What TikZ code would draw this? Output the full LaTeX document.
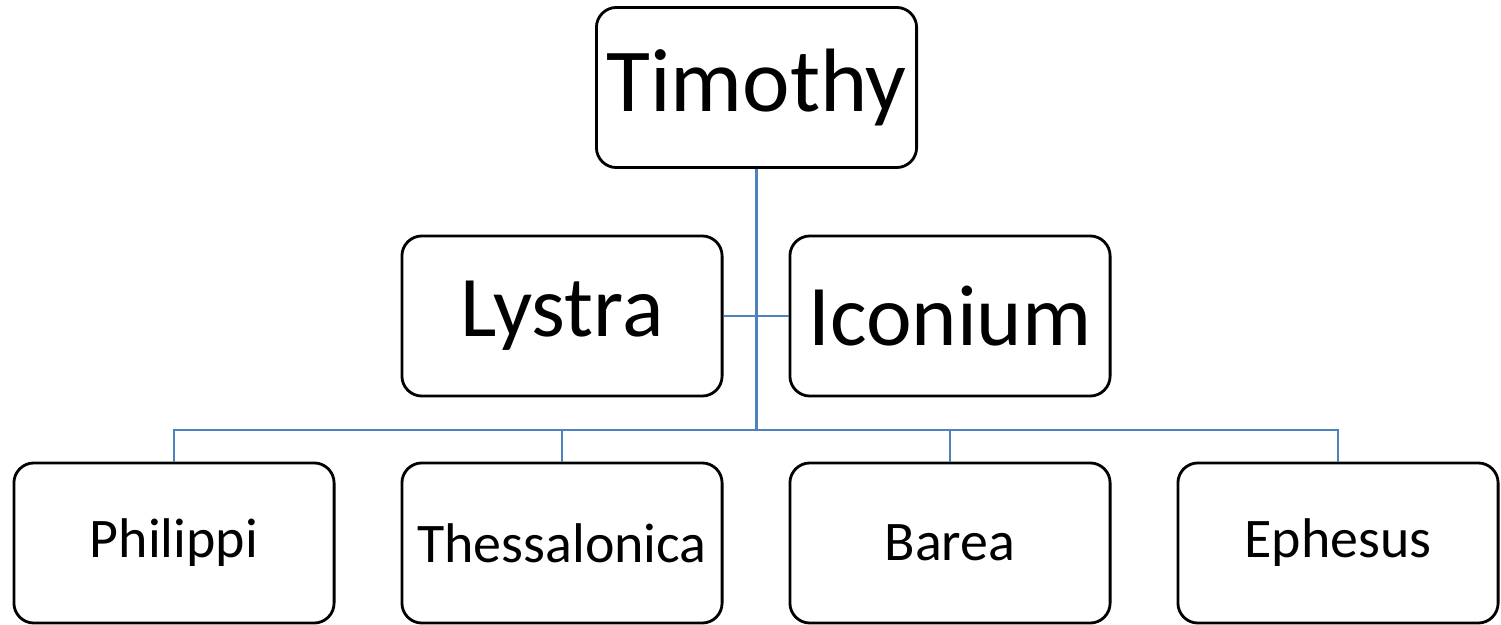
\documentclass[tikz,border=0pt]{standalone}
\usepackage{fontspec}
\setmainfont{Carlito}
\definecolor{bleulien}{RGB}{79,129,189}
\begin{document}
\begin{tikzpicture}[x=0.01cm,y=0.01cm]
% Styles
\tikzstyle{boite}=[draw=black,line width=0.8pt,rounded corners=0.2cm,minimum width=3.2cm,minimum height=1.6cm,inner sep=0pt,fill=white]
\tikzstyle{grand}=[font=\fontsize{25.6}{30}\selectfont]
\tikzstyle{moyen}=[font=\fontsize{24.6}{29}\selectfont]
\tikzstyle{petit}=[font=\fontsize{15.9}{19}\selectfont]
\tikzstyle{trait}=[draw=bleulien,line width=0.65pt]
% Cadre
\useasboundingbox (0,0) rectangle (1501,624);
% Hauteurs des lignes
\def\HtA{536.5}
\def\HtB{308}
\def\HtC{81}
\def\HtBus{194}
% Ligne du haut
\node[boite,grand] (timothy) at (756.5,\HtA) {Timothy};
% Ligne du milieu
\node[boite,moyen] (lystra) at (562,\HtB) {Lystra};
\node[boite,moyen] (iconium) at (950,\HtB) {Iconium};
% Ligne du bas
\node[boite,petit] (philippi) at (174,\HtC) {Philippi};
\node[boite,petit] (thessalonica) at (562,\HtC) {Thessalonica};
\node[boite,petit] (barea) at (950,\HtC) {Barea};
\node[boite,petit] (ephesus) at (1338,\HtC) {Ephesus};
% Liens
\coordinate (bus) at (756.5,\HtBus);
\draw[trait] (timothy.south) -- (bus);
\draw[trait] (lystra.east) -- (iconium.west);
\draw[trait] (philippi.north) |- (bus) -| (ephesus.north);
\draw[trait] (thessalonica.north) -- (thessalonica.north |- bus);
\draw[trait] (barea.north) -- (barea.north |- bus);
\end{tikzpicture}
\end{document}
